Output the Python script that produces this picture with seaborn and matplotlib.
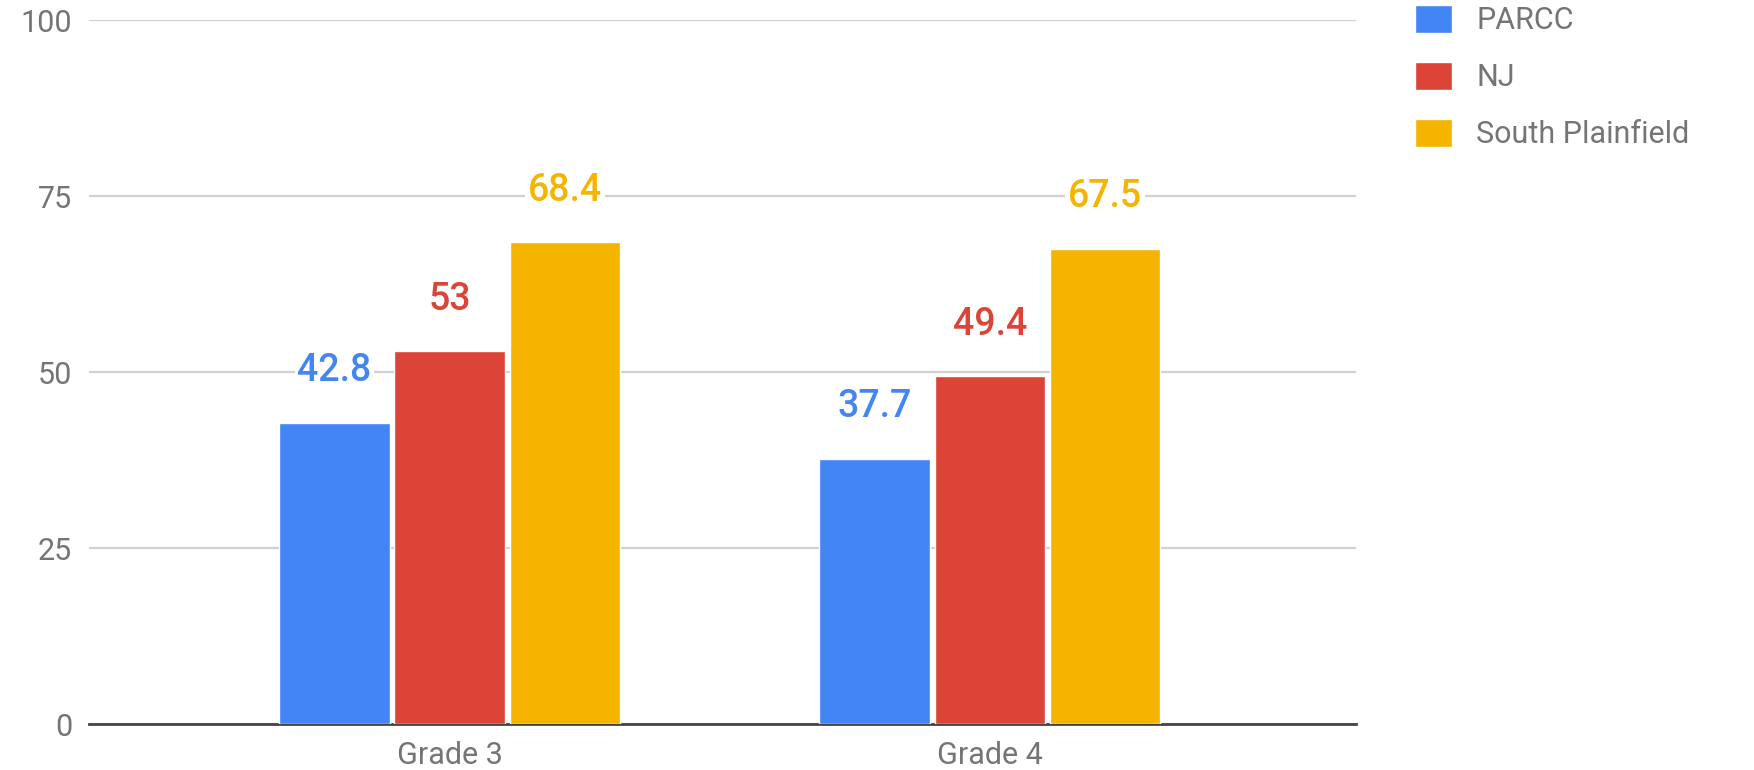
import pandas as pd
import matplotlib
matplotlib.use("Agg")
import matplotlib.pyplot as plt
import seaborn as sns

# datos
grados = ["Grade 3", "Grade 4"]
series = ["PARCC", "NJ", "South Plainfield"]
parcc = [42.8, 37.7]
nj = [53, 49.4]
south_plainfield = [68.4, 67.5]
colores = ["#4285F4", "#DB4437", "#F4B400"]
yticks = [0, 25, 50, 75, 100]

df = pd.DataFrame({
    "grado": grados * 3,
    "serie": [s for s in series for _ in grados],
    "valor": parcc + nj + south_plainfield,
})

sns.set_theme(style="white")
plt.rcParams["font.family"] = ["Roboto", "DejaVu Sans"]
gris = "#757575"

fig = plt.figure(figsize=(17.54, 7.70), dpi=100)
ax = fig.add_axes([0.0507, 0.0597, 0.7224, 0.9143])

sns.barplot(data=df, x="grado", y="valor", hue="serie", order=grados,
            hue_order=series, palette=colores, width=0.64, gap=0.04,
            saturation=1, ax=ax, zorder=3)

ax.set_ylim(0, 100)
ax.set_xlim(-0.668, 1.678)
ax.set_yticks(yticks)
ax.yaxis.grid(True, color="#d0d0d0", linewidth=1.6, zorder=0)
ax.set_axisbelow(True)
for lado in ["top", "right", "left"]:
    ax.spines[lado].set_visible(False)
ax.spines["bottom"].set_color("#444444")
ax.spines["bottom"].set_linewidth(2)
ax.tick_params(axis="both", length=0, labelsize=22, labelcolor=gris)
ax.tick_params(axis="y", pad=12)
ax.tick_params(axis="x", pad=12)
ax.set_xlabel("")
ax.set_ylabel("")

# etiquetas de valor con fondo blanco sobre la rejilla
for cont, color in zip(ax.containers, colores):
    etiquetas = [f"{b.get_height():g}" for b in cont]
    ax.bar_label(cont, labels=etiquetas, padding=24, color=color, fontsize=27,
                 fontweight="medium",
                 bbox=dict(facecolor="white", edgecolor="none", pad=2))

handles, labels = ax.get_legend_handles_labels()
ax.get_legend().remove()
leg = fig.legend(handles, labels, loc="upper left", bbox_to_anchor=(0.798, 1.013),
                 frameon=False, fontsize=22, handlelength=1.2, handleheight=1.0,
                 handletextpad=0.8, labelspacing=0.88, borderpad=0)
for t in leg.get_texts():
    t.set_color(gris)

fig.savefig("out.png", dpi=100, facecolor="white")
